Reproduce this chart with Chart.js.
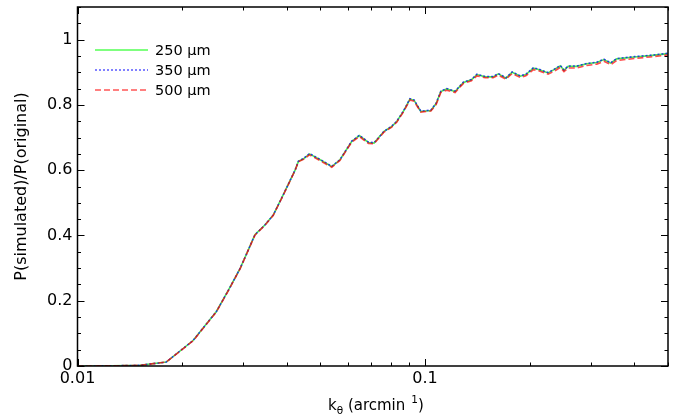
<!DOCTYPE html>
<html>
<head>
<meta charset="utf-8">
<script src="https://cdn.jsdelivr.net/npm/chart.js@4.4.1/dist/chart.umd.min.js"></script>
<style>
  html, body { margin: 0; padding: 0; background: #fff; }
  #wrap { width: 678px; height: 420px; }
</style>
</head>
<body>
<div id="wrap"><canvas id="ratioChart" width="678" height="420"></canvas></div>
<script>
// k_theta values (arcmin^-1)
const kTheta = [0.0100, 0.0126, 0.0151, 0.0180, 0.0215, 0.0251, 0.0272, 0.0294, 0.0324, 0.0346,
    0.0366, 0.0391, 0.0423, 0.0432, 0.0447, 0.0465, 0.0499, 0.0539, 0.0569, 0.0615,
    0.0647, 0.0687, 0.0713, 0.0762, 0.0800, 0.0829, 0.0866, 0.0905, 0.0930, 0.0972,
    0.1039, 0.1076, 0.1110, 0.1154, 0.1220, 0.1290, 0.1360, 0.1410, 0.1490, 0.1570,
    0.1625, 0.1710, 0.1780, 0.1880, 0.1950, 0.2050, 0.2130, 0.2260, 0.2350, 0.2450,
    0.2510, 0.2580, 0.2730, 0.2920, 0.3120, 0.3270, 0.3420, 0.3560, 0.4000, 0.4440, 0.5000];

const ratio250 = [0.000, 0.0005, 0.002, 0.012, 0.078, 0.167, 0.233, 0.300, 0.402, 0.432,
    0.463, 0.525, 0.601, 0.627, 0.635, 0.650, 0.632, 0.611, 0.632, 0.688,
    0.706, 0.685, 0.683, 0.719, 0.733, 0.749, 0.780, 0.818, 0.814, 0.780,
    0.783, 0.804, 0.841, 0.849, 0.841, 0.869, 0.877, 0.893, 0.886, 0.886,
    0.895, 0.882, 0.900, 0.888, 0.893, 0.913, 0.908, 0.898, 0.908, 0.920,
    0.906, 0.918, 0.918, 0.926, 0.930, 0.939, 0.928, 0.941, 0.947, 0.951, 0.957];

const ratio350 = [0.000, 0.0005, 0.002, 0.012, 0.078, 0.167, 0.233, 0.300, 0.402, 0.432,
    0.463, 0.525, 0.601, 0.627, 0.636, 0.651, 0.633, 0.612, 0.632, 0.689,
    0.707, 0.686, 0.684, 0.719, 0.734, 0.750, 0.781, 0.819, 0.815, 0.781,
    0.784, 0.805, 0.842, 0.850, 0.842, 0.870, 0.878, 0.894, 0.887, 0.887,
    0.896, 0.883, 0.901, 0.889, 0.894, 0.914, 0.909, 0.899, 0.909, 0.921,
    0.907, 0.919, 0.919, 0.927, 0.931, 0.940, 0.929, 0.942, 0.948, 0.952, 0.958];

const ratio500 = [0.000, 0.0005, 0.002, 0.012, 0.077, 0.166, 0.232, 0.299, 0.401, 0.431,
    0.462, 0.524, 0.600, 0.626, 0.633, 0.647, 0.629, 0.609, 0.630, 0.686,
    0.703, 0.682, 0.681, 0.717, 0.731, 0.747, 0.778, 0.815, 0.811, 0.778,
    0.781, 0.801, 0.838, 0.845, 0.838, 0.866, 0.874, 0.889, 0.883, 0.883,
    0.891, 0.879, 0.896, 0.884, 0.889, 0.908, 0.904, 0.894, 0.903, 0.915,
    0.902, 0.913, 0.913, 0.921, 0.925, 0.934, 0.923, 0.936, 0.942, 0.947, 0.953];

const seriesNames = ['250 µm', '350 µm', '500 µm'];
const xTickValues = [0.01, 0.02, 0.03, 0.04, 0.05, 0.06, 0.07, 0.08, 0.09, 0.1, 0.2, 0.3, 0.4, 0.5];
const xTickLabels = { 0.01: '0.01', 0.1: '0.1' };

const FONT = "'DejaVu Sans', sans-serif";

function toPoints(ys) {
    return kTheta.map((k, i) => ({ x: k, y: ys[i] }));
}

// inward ticks + frame, like the matplotlib look
const framePlugin = {
    id: 'frame',
    afterDatasetsDraw(chart) {
        const ctx = chart.ctx;
        const a = chart.chartArea;
        const xs = chart.scales.x;
        const ys = chart.scales.y;
        ctx.save();
        ctx.strokeStyle = '#000';
        ctx.lineWidth = 1;
        ctx.beginPath();
        xs.ticks.forEach(t => {
            const px = Math.round(xs.getPixelForValue(t.value)) + 0.5;
            const len = (t.value === 0.01 || t.value === 0.1) ? 7 : 3.5;
            ctx.moveTo(px, a.bottom); ctx.lineTo(px, a.bottom - len);
            ctx.moveTo(px, a.top); ctx.lineTo(px, a.top + len);
        });
        ys.ticks.forEach(t => {
            const py = Math.round(ys.getPixelForValue(t.value)) + 0.5;
            const r = t.value / 0.2;
            const len = Math.abs(r - Math.round(r)) < 1e-6 ? 7 : 3.5;
            ctx.moveTo(a.left, py); ctx.lineTo(a.left + len, py);
            ctx.moveTo(a.right, py); ctx.lineTo(a.right - len, py);
        });
        ctx.stroke();
        ctx.lineWidth = 1.5;
        ctx.strokeRect(a.left, a.top, a.right - a.left, a.bottom - a.top);
        ctx.restore();
    },
    afterDraw(chart) {
        const ctx = chart.ctx;
        const a = chart.chartArea;
        ctx.save();
        ctx.fillStyle = '#000';

        // y title
        ctx.save();
        ctx.translate(22, (a.top + a.bottom) / 2);
        ctx.rotate(-Math.PI / 2);
        ctx.font = '16px ' + FONT;
        ctx.textAlign = 'center';
        ctx.textBaseline = 'middle';
        ctx.fillText('P(simulated)/P(original)', 0, 0);
        ctx.restore();

        // x title: k_theta (arcmin ^1)
        let x = 328;
        const base = 410;
        ctx.textAlign = 'left';
        ctx.textBaseline = 'alphabetic';
        ctx.font = '15px ' + FONT;
        ctx.fillText('k', x, base);
        x += ctx.measureText('k').width;
        ctx.font = '10.5px ' + FONT;
        ctx.fillText('θ', x, base + 4);
        x += ctx.measureText('θ').width;
        ctx.font = '15px ' + FONT;
        ctx.fillText(' (arcmin', x, base);
        x += ctx.measureText(' (arcmin').width + 6;
        ctx.font = '10.5px ' + FONT;
        ctx.fillText('1', x, base - 7);
        x += ctx.measureText('1').width;
        ctx.font = '15px ' + FONT;
        ctx.fillText(')', x, base);

        // legend
        const legendY = [50, 70, 90];
        const legendColors = ['rgba(0,255,0,0.5)', 'rgba(0,0,255,0.55)', 'rgba(255,0,0,0.5)'];
        chart.data.datasets.forEach((ds, i) => {
            ctx.strokeStyle = legendColors[i];
            ctx.lineWidth = 1.8;
            ctx.setLineDash(ds.borderDash || []);
            ctx.beginPath();
            ctx.moveTo(95, legendY[i]);
            ctx.lineTo(148, legendY[i]);
            ctx.stroke();
            ctx.setLineDash([]);
            ctx.font = '14.5px ' + FONT;
            ctx.textBaseline = 'middle';
            ctx.fillText(ds.label, 155, legendY[i] + 1);
        });
        ctx.restore();
    }
};

const ctx = document.getElementById('ratioChart').getContext('2d');
const ratioChart = new Chart(ctx, {
    type: 'line',
    data: {
        datasets: [
            {
                label: seriesNames[0],
                data: toPoints(ratio250),
                borderColor: 'rgba(0,230,0,0.7)',
                borderWidth: 1.6,
                pointRadius: 0,
                order: 2
            },
            {
                label: seriesNames[1],
                data: toPoints(ratio350),
                borderColor: 'rgba(0,0,255,0.7)',
                borderWidth: 1.6,
                borderDash: [2, 2],
                pointRadius: 0,
                order: 1
            },
            {
                label: seriesNames[2],
                data: toPoints(ratio500),
                borderColor: 'rgba(255,0,0,0.7)',
                borderWidth: 1.6,
                borderDash: [6, 3],
                pointRadius: 0,
                order: 0
            }
        ]
    },
    options: {
        responsive: false,
        devicePixelRatio: 1,
        animation: false,
        layout: { padding: { left: 0, right: 10, top: 7, bottom: 0 } },
        plugins: {
            legend: { display: false },
            tooltip: { enabled: false }
        },
        scales: {
            x: {
                type: 'logarithmic',
                min: 0.01,
                max: 0.5,
                afterBuildTicks(scale) {
                    scale.ticks = xTickValues.map(v => ({ value: v }));
                },
                afterFit(scale) {
                    scale.height = 54;
                    scale.paddingLeft = 0;
                    scale.paddingRight = 0;
                },
                grid: { display: false, drawTicks: false },
                border: { display: false },
                ticks: {
                    autoSkip: false,
                    maxRotation: 0,
                    padding: 3,
                    color: '#000',
                    font: { family: FONT, size: 16 },
                    callback: v => xTickLabels[v] || ''
                }
            },
            y: {
                min: 0,
                max: 1.1,
                afterFit(scale) {
                    scale.width = 77.5;
                    scale.paddingTop = 0;
                    scale.paddingBottom = 0;
                },
                grid: { display: false, drawTicks: false },
                border: { display: false },
                ticks: {
                    stepSize: 0.05,
                    autoSkip: false,
                    padding: 5,
                    color: '#000',
                    font: { family: FONT, size: 16 },
                    callback: function(v) {
                        const r = v / 0.2;
                        if (Math.abs(r - Math.round(r)) > 1e-6) return '';
                        return String(Math.round(r) * 2 / 10);
                    }
                }
            }
        }
    },
    plugins: [framePlugin]
});
</script>
</body>
</html>
